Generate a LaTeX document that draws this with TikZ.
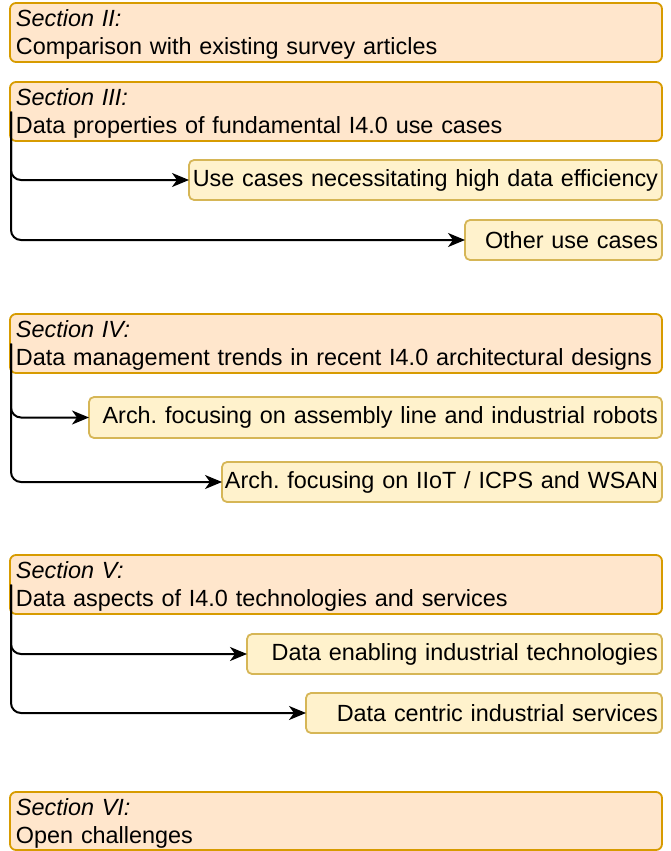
\documentclass[tikz,border=0pt]{standalone}
\usepackage{fontspec}
\setmainfont{Liberation Sans}
\usetikzlibrary{arrows.meta}
\definecolor{mainfill}{HTML}{FFE6CC}
\definecolor{maindraw}{HTML}{D79B00}
\definecolor{subfill}{HTML}{FFF2CC}
\definecolor{subdraw}{HTML}{D6B656}
\newcommand{\rtext}[1]{\hbox to \linewidth{\hss #1}}
\newcommand{\ltext}[1]{\hbox to \linewidth{#1\hss}}
\newcommand{\secline}[1]{\ltext{\rule{0pt}{21pt}\textit{#1}}}
\begin{document}
\begin{tikzpicture}[x=1pt,y=-1pt,
  font=\fontsize{23.4}{28}\selectfont\frenchspacing,
  sect/.style={draw=maindraw, fill=mainfill, line width=1.8pt, rounded corners=6pt,
    anchor=north west, outer sep=0pt, inner xsep=6pt, inner ysep=0pt,
    text width=640pt, align=left, minimum height=59pt},
  sub/.style={draw=subdraw, fill=subfill, line width=1.8pt, rounded corners=5pt,
    anchor=north west, outer sep=0pt, inner xsep=4pt, inner ysep=0pt,
    align=right, minimum height=40pt},
  conn/.style={line width=2pt, rounded corners=10pt,
    -{Stealth[length=17pt,width=14pt,inset=5pt]}}
]
\useasboundingbox (0,0) rectangle (670,851);

\node[sect] (s2) at (10,3) {\secline{Section II:}\\\ltext{Comparison with existing survey articles}};
\node[sect] (s3) at (10,82) {\secline{Section III:}\\\ltext{Data properties of fundamental I4.0 use cases}};
\node[sub, text width=465pt] (u1) at (189,160) {\rtext{Use cases necessitating high data efficiency}};
\node[sub, text width=189pt] (u2) at (465,220) {\rtext{Other use cases}};
\draw[conn] ([xshift=1pt]s3.west) |- (u1.west);
\draw[conn] ([xshift=1pt]s3.west) |- (u2.west);

\node[sect] (s4) at (10,314) {\secline{Section IV:}\\\ltext{Data management trends in recent I4.0 architectural designs}};
\node[sub, text width=565pt, minimum height=41pt] (a1) at (89,397) {\rtext{Arch. focusing on assembly line and industrial robots}};
\node[sub, text width=432pt] (a2) at (222,462) {\rtext{Arch. focusing on IIoT / ICPS and WSAN}};
\draw[conn] ([xshift=1pt]s4.west) |- (a1.west);
\draw[conn] ([xshift=1pt]s4.west) |- (a2.west);

\node[sect] (s5) at (10,555) {\secline{Section V:}\\\ltext{Data aspects of I4.0 technologies and services}};
\node[sub, text width=407pt] (d1) at (247,634) {\rtext{Data enabling industrial technologies}};
\node[sub, text width=348pt] (d2) at (306,693) {\rtext{Data centric industrial services}};
\draw[conn] ([xshift=1pt]s5.west) |- (d1.west);
\draw[conn] ([xshift=1pt]s5.west) |- (d2.west);

\node[sect, minimum height=58pt] (s6) at (10,792) {\secline{Section VI:}\\\ltext{Open challenges}};
\end{tikzpicture}
\end{document}
